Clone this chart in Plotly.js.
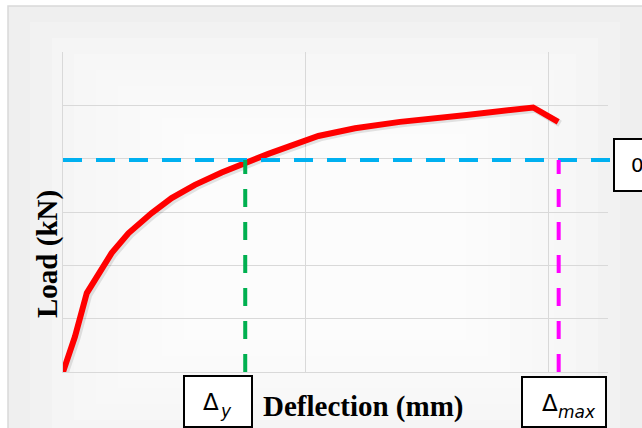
<!DOCTYPE html>
<html>
<head>
<meta charset="utf-8">
<script src="https://cdn.plot.ly/plotly-3.0.1.min.js"></script>
<style>html,body{margin:0;padding:0;background:#fff;overflow:hidden}</style>
</head>
<body>
<div id="chart" style="width:642px;height:428px"></div>
<script>
// ---- data (mm / kN) ----
const deflection = [0, 0.49, 0.98, 1.45, 2.0, 2.69, 3.65, 4.47, 5.43, 6.53, 7.49, 8.45, 9.28, 10.51, 12.02, 13.87, 16.61, 19.35, 20.38];
const load       = [0, 6.6, 14.8, 18.5, 22.3, 26.0, 29.8, 32.6, 35.1, 37.4, 39.25, 40.9, 42.25, 44.25, 45.7, 46.9, 48.2, 49.6, 46.9];
const yieldLoad = 39.75;
const deltaY = 7.5;
const deltaMax = 20.4;
const xTitle = "Deflection (mm)";
const yTitle = "Load (kN)";
const deltaSym = "Δ";
const subY = "y";
const subMax = "max";
const labelYield = "0.75P<sub><i>max</i></sub>";

// ---- layout helpers (pixel -> paper) ----
const L = 63, T = 52, W = 545, H = 320;
const px = v => (v - L) / W;
const py = v => (T + H - v) / H;

const shapes = [];
// outer chart frame
shapes.push({type:'rect', xref:'paper', yref:'paper', layer:'below',
  x0:px(8), x1:px(700), y0:py(500), y1:py(6),
  fillcolor:'#efefef', line:{color:'#d9d9d9', width:1.5}});
// soft radial-ish gradient
for (let i = 1; i <= 8; i++) {
  shapes.push({type:'rect', xref:'paper', yref:'paper', layer:'below',
    x0:px(8 + i*22), x1:px(642 - i*22), y0:py(428 - i*16 + 40), y1:py(6 + i*16),
    fillcolor:'rgba(255,255,255,0.22)', line:{width:0}});
}
// yield (horizontal cyan)
shapes.push({type:'line', xref:'paper', yref:'y', x0:0, x1:px(614), y0:yieldLoad, y1:yieldLoad,
  line:{color:'#00b0f0', width:4, dash:'19px,14px'}, layer:'above'});
// delta_y (green)
shapes.push({type:'line', xref:'x', yref:'y', x0:deltaY, x1:deltaY, y0:0, y1:yieldLoad,
  line:{color:'#00b050', width:4, dash:'18px,15px'}, layer:'above'});
// delta_max (magenta)
shapes.push({type:'line', xref:'x', yref:'y', x0:deltaMax, x1:deltaMax, y0:0, y1:yieldLoad,
  line:{color:'#ff00ff', width:4, dash:'18px,15px'}, layer:'above'});
// label boxes
const box = (x0,x1,y0,y1) => ({type:'rect', xref:'paper', yref:'paper', layer:'above',
  x0:px(x0), x1:px(x1), y0:py(y1), y1:py(y0), fillcolor:'#ffffff', line:{color:'#000000', width:2}});
shapes.push(box(184, 252, 376, 427));
shapes.push(box(522, 606, 377, 427));
shapes.push(box(614, 660, 139, 191));

const serif = 'Liberation Serif, Times New Roman, serif';
const math = 'DejaVu Sans, sans-serif';
const ann = (x, y, text, size, xa, family, extra) => Object.assign({xref:'paper', yref:'paper',
  x:px(x), y:py(y), text:text, showarrow:false, font:{family:family, size:size, color:'#000'},
  xanchor:xa, yanchor:'middle', borderpad:0}, extra || {});
const annotations = [
  ann(363, 406, '<b>'+xTitle+'</b>', 29, 'center', serif),
  ann(47, 254, '<b>'+yTitle+'</b>', 29, 'center', serif, {textangle:-90}),
  ann(220, 402, deltaSym, 23, 'right', math),
  ann(219, 411, '<i>'+subY+'</i>', 17, 'left', math),
  ann(559, 402.5, deltaSym, 23, 'right', math),
  ann(557, 412, '<i>'+subMax+'</i>', 17, 'left', math),
  ann(630, 166, labelYield, 20, 'left', math)
];

const traces = [
  {x: deflection.map(v => v + 0.08), y: load.map(v => v - 0.35), mode:'lines',
   line:{color:'rgba(0,0,0,0.1)', width:7}, hoverinfo:'skip'},
  {x: deflection, y: load, mode:'lines', line:{color:'#ff0000', width:6}}
];

const layout = {
  width:642, height:428,
  margin:{l:L, r:642-L-W, t:T, b:428-T-H, pad:0},
  paper_bgcolor:'#ffffff', plot_bgcolor:'rgba(0,0,0,0)',
  showlegend:false,
  xaxis:{range:[0, 22.43], tick0:0, dtick:10, showgrid:true, gridcolor:'#d9d9d9', gridwidth:1,
         zeroline:false, showticklabels:false, ticks:'', showline:true, linecolor:'#d9d9d9', linewidth:1, fixedrange:true},
  yaxis:{range:[0, 60], tick0:0, dtick:10, showgrid:true, gridcolor:'#d9d9d9', gridwidth:1,
         zeroline:false, showticklabels:false, ticks:'', showline:true, linecolor:'#d9d9d9', linewidth:1, fixedrange:true},
  shapes: shapes,
  annotations: annotations
};

Plotly.newPlot('chart', traces, layout, {displayModeBar:false, staticPlot:true});
</script>
</body>
</html>
